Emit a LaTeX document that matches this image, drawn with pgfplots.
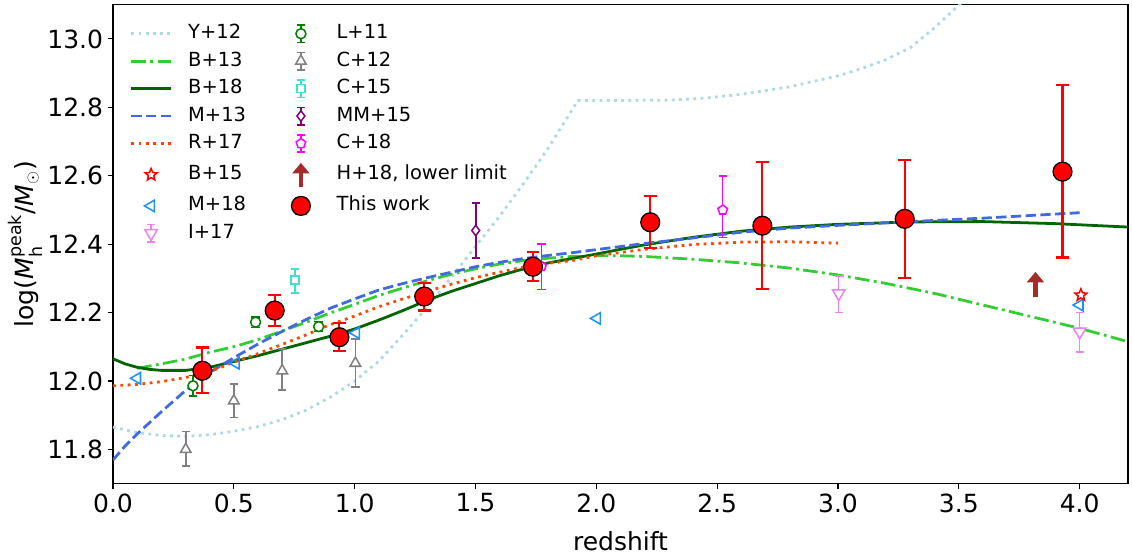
\documentclass[border=0pt]{standalone}
\usepackage{fontspec}
\setmainfont{DejaVu Sans}
\usepackage{amsmath}
\usepackage{pgfplots}
\pgfplotsset{compat=1.18}
\usetikzlibrary{arrows.meta,plotmarks}

\definecolor{lightbluec}{HTML}{ADD8E6}
\definecolor{limegreenc}{HTML}{32CD32}
\definecolor{darkgreenc}{HTML}{006400}
\definecolor{royalbluec}{HTML}{4169E1}
\definecolor{orangeredc}{HTML}{FF4500}
\definecolor{dodgerbluec}{HTML}{1E90FF}
\definecolor{violetc}{HTML}{EE82EE}
\definecolor{greenc}{HTML}{008000}
\definecolor{grayc}{HTML}{808080}
\definecolor{turqc}{HTML}{40E0D0}
\definecolor{purplec}{HTML}{800080}
\definecolor{magentac}{HTML}{FF00FF}
\definecolor{brownc}{HTML}{A52A2A}

\pgfdeclareplotmark{ostar}{%
  \pgfpathmoveto{\pgfpointpolar{90}{\pgfplotmarksize}}%
  \pgfpathlineto{\pgfpointpolar{126}{0.45\pgfplotmarksize}}%
  \pgfpathlineto{\pgfpointpolar{162}{\pgfplotmarksize}}%
  \pgfpathlineto{\pgfpointpolar{198}{0.45\pgfplotmarksize}}%
  \pgfpathlineto{\pgfpointpolar{234}{\pgfplotmarksize}}%
  \pgfpathlineto{\pgfpointpolar{270}{0.45\pgfplotmarksize}}%
  \pgfpathlineto{\pgfpointpolar{306}{\pgfplotmarksize}}%
  \pgfpathlineto{\pgfpointpolar{342}{0.45\pgfplotmarksize}}%
  \pgfpathlineto{\pgfpointpolar{18}{\pgfplotmarksize}}%
  \pgfpathlineto{\pgfpointpolar{54}{0.45\pgfplotmarksize}}%
  \pgfpathclose\pgfusepathqstroke}

\pgfplotsset{
  legend image code/.code={\path[draw=none,fill=none] (0cm,0cm) -- (1cm,0cm);\draw[mark repeat=2,mark phase=2,#1] plot coordinates {(0cm,0cm)(0.5cm,0cm)(1cm,0cm)};},
  errleg/.style={legend image code/.code={%
      \path[draw=none,fill=none] (0cm,0cm) -- (1cm,0cm);
      \draw[##1,{Bar[width=6pt]}-{Bar[width=6pt]}] (0.5cm,-0.24cm) -- (0.5cm,0.24cm);
      \draw[##1,only marks] plot coordinates {(0.5cm,0cm)};}},
  errlegbig/.style={legend image code/.code={%
      \path[draw=none,fill=none] (0cm,0cm) -- (1cm,0cm);
      \draw[red,line width=1.5pt,{Bar[width=9pt]}-{Bar[width=9pt]}] (0.5cm,-0.23cm) -- (0.5cm,0.23cm);
      \draw[##1,only marks] plot coordinates {(0.5cm,0cm)};}},
  arrowleg/.style={legend image code/.code={%
      \path[draw=none,fill=none] (0cm,0cm) -- (1cm,0cm);
      \draw[brownc,line width=3.2pt,-{Triangle[width=12pt,length=7.5pt]}] (0.5cm,-0.3cm) -- (0.5cm,0.3cm);}},
  ydot/.style={line width=2pt,dash pattern=on 2pt off 3.2pt},
  rdot/.style={line width=2pt,dash pattern=on 2pt off 3.3pt},
  bdashdot/.style={line width=2pt,dash pattern=on 10.5pt off 3.2pt on 2pt off 3.2pt},
  mdash/.style={line width=2pt,dash pattern=on 7.4pt off 3.2pt},
  smallerr/.style={error bars/.cd, y dir=both, y explicit,
      error bar style={line width=1.1pt},
      error mark options={rotate=90,mark size=3pt,line width=1.1pt}},
}

\begin{document}
\begin{tikzpicture}
\begin{axis}[
  scale only axis, width=730.8pt, height=344.8pt,
  xmin=0, xmax=4.2, ymin=11.7, ymax=13.1,
  xtick={0,0.5,1,1.5,2,2.5,3,3.5,4},
  ytick={11.8,12,12.2,12.4,12.6,12.8,13},
  tick pos=left, tick align=outside, major tick length=3.6pt,
  tick style={line width=0.8pt,black},
  axis line style={line width=0.8pt},
  ticklabel style={font=\fontsize{18}{20}\selectfont},
  /pgf/number format/assume math mode=true,
  xticklabel style={/pgf/number format/.cd,fixed,fixed zerofill,precision=1},
  yticklabel style={/pgf/number format/.cd,fixed,fixed zerofill,precision=1},
  xlabel={redshift},
  ylabel={log(\textit{M}$^{\text{peak}}_{\text{h}}$/\textit{M}$_{\odot}$)},
  every axis x label/.style={at={(axis description cs:0.5,-0.12)},anchor=center,font=\fontsize{18}{20}\selectfont},
  every axis y label/.style={at={(axis description cs:-0.086,0.5)},rotate=90,anchor=center,font=\fontsize{18}{20}\selectfont},
  legend columns=2,
  legend cell align=left,
  legend style={at={(axis description cs:0,1)}, anchor=north west,
    xshift=12.2pt, yshift=-13.5pt,
    draw=none, fill=none, inner sep=0pt, outer sep=0pt,
    font=\fontsize{14}{16}\selectfont,
    column sep=11.5pt, row sep=5pt,
    nodes={inner sep=0pt, text height=10.2pt, text depth=3pt},
    /tikz/every even column/.append style={column sep=25.3pt}},
]
\coordinate (bl) at (rel axis cs:0,0);
\coordinate (tr) at (rel axis cs:1,1);

% ---------------- legend (column-wise order emulated row-wise)
\addlegendimage{lightbluec, ydot}\addlegendentry{Y+12}
\addlegendimage{errleg, greenc, line width=1.1pt, mark=*, mark size=3.6pt, mark options={fill=white,solid}}\addlegendentry{L+11}
\addlegendimage{limegreenc, bdashdot}\addlegendentry{B+13}
\addlegendimage{errleg, grayc, line width=1.1pt, mark=triangle*, mark size=4.4pt, mark options={fill=white,solid}}\addlegendentry{C+12}
\addlegendimage{darkgreenc, line width=2pt}\addlegendentry{B+18}
\addlegendimage{errleg, turqc, line width=1.1pt, mark=square*, mark size=2.9pt, mark options={fill=white,solid}}\addlegendentry{C+15}
\addlegendimage{royalbluec, mdash}\addlegendentry{M+13}
\addlegendimage{errleg, purplec, line width=1.1pt, mark=diamond*, mark size=3.8pt, mark options={fill=white,solid}}\addlegendentry{MM+15}
\addlegendimage{orangeredc, rdot}\addlegendentry{R+17}
\addlegendimage{errleg, magentac, line width=1.1pt, mark=pentagon*, mark size=3.6pt, mark options={fill=white,solid}}\addlegendentry{C+18}
\addlegendimage{red, only marks, mark=ostar, mark size=4.5pt, mark options={line width=1.1pt}}\addlegendentry{B+15}
\addlegendimage{arrowleg}\addlegendentry{H+18, lower limit}
\addlegendimage{dodgerbluec, only marks, mark=triangle, mark size=4.8pt, mark options={rotate=90, line width=1.1pt}}\addlegendentry{M+18}
\addlegendimage{errlegbig, only marks, mark=*, mark size=6.8pt, mark options={fill=red, draw=black, line width=0.9pt}}\addlegendentry{This work}
\addlegendimage{errleg, violetc, line width=1.1pt, mark=triangle*, mark size=5.2pt, mark options={rotate=180, fill=white,solid}}\addlegendentry{I+17}

% ---------------- model curves
\addplot[forget plot, lightbluec, ydot] coordinates {
(0.0,11.865) (0.1,11.849) (0.2,11.841) (0.3,11.838) (0.4,11.843) (0.5,11.853)
(0.6,11.867) (0.7,11.887) (0.8,11.915) (0.9,11.953) (1.0,12.000) (1.1,12.058)
(1.2,12.135) (1.3,12.215) (1.4,12.303) (1.5,12.393) (1.6,12.482) (1.7,12.578)
(1.8,12.680) (1.924,12.820) (2.0,12.820) (2.1,12.820) (2.3,12.821) (2.45,12.827)
(2.6,12.838) (2.8,12.860) (3.0,12.892) (3.1,12.914) (3.2,12.940) (3.3,12.975)
(3.4,13.033) (3.5,13.099) (3.55,13.135)};

\addplot[forget plot, limegreenc, bdashdot] coordinates {
(0.10,12.037) (0.20,12.050) (0.30,12.064) (0.40,12.084) (0.50,12.100) (0.60,12.121)
(0.70,12.146) (0.80,12.172) (0.90,12.199) (1.00,12.224) (1.10,12.250) (1.20,12.272)
(1.30,12.293) (1.40,12.312) (1.50,12.328) (1.60,12.342) (1.70,12.352) (1.80,12.359)
(1.90,12.364) (2.00,12.366) (2.10,12.366) (2.20,12.364) (2.40,12.356) (2.60,12.345)
(2.80,12.330) (3.00,12.310) (3.20,12.285) (3.40,12.256) (3.60,12.222) (3.80,12.188)
(4.00,12.154) (4.20,12.115)};

\addplot[forget plot, darkgreenc, line width=2pt] coordinates {
(0.00,12.065) (0.05,12.050) (0.10,12.040) (0.15,12.034) (0.20,12.031) (0.30,12.031)
(0.40,12.040) (0.50,12.057) (0.60,12.074) (0.70,12.093) (0.80,12.112) (0.90,12.131)
(1.00,12.152) (1.10,12.178) (1.20,12.206) (1.30,12.236) (1.40,12.262) (1.50,12.285)
(1.60,12.308) (1.70,12.328) (1.80,12.345) (1.90,12.358) (2.00,12.371) (2.10,12.385)
(2.20,12.398) (2.40,12.420) (2.60,12.438) (2.80,12.450) (3.00,12.458) (3.30,12.465)
(3.60,12.466) (3.90,12.460) (4.20,12.450)};

\addplot[forget plot, royalbluec, mdash] coordinates {
(0.00,11.769) (0.05,11.810) (0.10,11.845) (0.20,11.910) (0.30,11.972) (0.40,12.025)
(0.50,12.068) (0.60,12.108) (0.70,12.145) (0.80,12.180) (0.90,12.213) (1.00,12.240)
(1.10,12.266) (1.20,12.285) (1.30,12.302) (1.40,12.318) (1.50,12.334) (1.60,12.347)
(1.70,12.358) (1.80,12.367) (1.90,12.375) (2.00,12.384) (2.20,12.402) (2.40,12.418)
(2.60,12.435) (2.80,12.447) (3.00,12.455) (3.30,12.466) (3.60,12.476) (4.00,12.492)};

\addplot[forget plot, orangeredc, rdot] coordinates {
(0.00,11.986) (0.10,11.990) (0.20,11.998) (0.30,12.010) (0.40,12.027) (0.50,12.055)
(0.60,12.080) (0.70,12.107) (0.80,12.135) (0.90,12.165) (1.00,12.190) (1.10,12.217)
(1.20,12.240) (1.30,12.262) (1.40,12.283) (1.50,12.302) (1.60,12.318) (1.70,12.333)
(1.80,12.344) (1.90,12.352) (2.00,12.366) (2.20,12.385) (2.40,12.399) (2.60,12.406)
(2.80,12.407) (3.00,12.403)};

% ---------------- observational points
\addplot[forget plot, only marks, greenc, line width=1.1pt, mark=*, mark size=3.6pt, mark options={fill=white}, smallerr]
table[x=x,y=y,y error plus=ep,y error minus=em] {
x y ep em
0.331 11.986 0.03 0.03
0.590 12.172 0.015 0.015
0.851 12.159 0.015 0.015
};

\addplot[forget plot, only marks, grayc, line width=1.1pt, mark=triangle*, mark size=4.4pt, mark options={fill=white}, smallerr]
table[x=x,y=y,y error plus=ep,y error minus=em] {
x y ep em
0.301 11.800 0.052 0.048
0.500 11.942 0.049 0.049
0.700 12.030 0.063 0.056
1.003 12.052 0.070 0.069
};

\addplot[forget plot, only marks, turqc, line width=1.1pt, mark=square*, mark size=2.9pt, mark options={fill=white}, smallerr]
table[x=x,y=y,y error plus=ep,y error minus=em] {
x y ep em
0.754 12.295 0.032 0.037
};

\addplot[forget plot, only marks, purplec, line width=1.1pt, mark=diamond*, mark size=3.8pt, mark options={fill=white}, smallerr]
table[x=x,y=y,y error plus=ep,y error minus=em] {
x y ep em
1.501 12.440 0.080 0.081
};

\addplot[forget plot, only marks, magentac, line width=1.1pt, mark=pentagon*, mark size=3.6pt, mark options={fill=white}, smallerr]
table[x=x,y=y,y error plus=ep,y error minus=em] {
x y ep em
1.773 12.335 0.065 0.067
2.523 12.500 0.099 0.080
};

\addplot[forget plot, only marks, violetc, line width=1.1pt, mark=triangle*, mark size=5.2pt, mark options={rotate=180,fill=white}, smallerr]
table[x=x,y=y,y error plus=ep,y error minus=em] {
x y ep em
3.003 12.256 0.051 0.056
4.000 12.144 0.056 0.060
};

\addplot[forget plot, only marks, dodgerbluec, mark=triangle, mark size=4.8pt, mark options={rotate=90, line width=1.1pt}] coordinates {
(0.100,12.008) (0.508,12.052) (1.006,12.141) (2.003,12.183) (4.000,12.222)};

\addplot[forget plot, only marks, red, mark=ostar, mark size=4.5pt, mark options={line width=1.1pt}] coordinates {
(4.005,12.251)};

\addplot[forget plot, brownc, line width=3.2pt, -{Triangle[width=12pt,length=7.5pt]}, quiver={u=0,v=0.073}] coordinates {
(3.817,12.246)};

% ---------------- this work
\addplot[forget plot, only marks, red, mark=*, mark size=6.8pt, mark options={fill=red, draw=black, line width=0.9pt},
  error bars/.cd, y dir=both, y explicit, error bar style={line width=1.5pt, red},
  error mark options={rotate=90, mark size=4.6pt, line width=1.5pt, red}]
table[x=x,y=y,y error plus=ep,y error minus=em] {
x y ep em
0.370 12.030 0.068 0.064
0.669 12.206 0.045 0.045
0.937 12.128 0.041 0.039
1.288 12.247 0.040 0.041
1.738 12.334 0.044 0.042
2.223 12.464 0.078 0.076
2.687 12.454 0.187 0.186
3.276 12.474 0.171 0.172
3.929 12.612 0.253 0.251
};
\end{axis}
\pgfresetboundingbox
\path ([shift={(-81.36pt,-52.85pt)}]bl) rectangle ([shift={(2.88pt,3.4pt)}]tr);
\end{tikzpicture}
\end{document}
